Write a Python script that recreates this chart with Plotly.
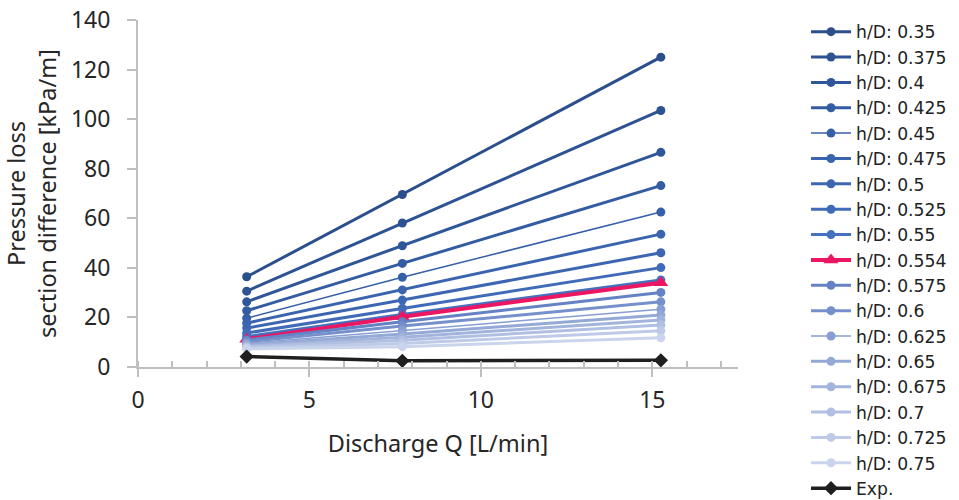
import plotly.graph_objects as go

discharge = [3.17, 7.71, 15.25]

hd_labels = ["h/D: 0.35", "h/D: 0.375", "h/D: 0.4", "h/D: 0.425", "h/D: 0.45",
             "h/D: 0.475", "h/D: 0.5", "h/D: 0.525", "h/D: 0.55", "h/D: 0.554",
             "h/D: 0.575", "h/D: 0.6", "h/D: 0.625", "h/D: 0.65", "h/D: 0.675",
             "h/D: 0.7", "h/D: 0.725", "h/D: 0.75"]

hd_values = [
    [36.4, 69.6, 125.0],
    [30.6, 58.1, 103.5],
    [26.3, 48.9, 86.6],
    [22.7, 41.8, 73.2],
    [19.7, 36.2, 62.5],
    [17.7, 31.1, 53.6],
    [15.7, 27.0, 46.1],
    [13.7, 23.7, 40.1],
    [12.3, 21.2, 35.1],
    [11.2, 20.3, 34.0],
    [10.9, 18.3, 30.1],
    [10.2, 16.5, 26.3],
    [9.5, 14.8, 23.3],
    [9.0, 13.3, 21.0],
    [8.5, 12.0, 19.0],
    [8.1, 10.8, 16.9],
    [7.7, 9.5, 14.6],
    [7.3, 8.2, 11.8],
]

exp_label = "Exp."
exp_values = [4.2, 2.5, 2.7]

colors = ["#2B4E8C", "#2E5393", "#30569A", "#345CA2", "#375FA8", "#3B64AE",
          "#3D66B2", "#416BB8", "#4470BD", "#EC1763", "#6482C4", "#7690CB",
          "#879ED2", "#95A9D7", "#A3B4DC", "#B1C0E2", "#BECAE7", "#CAD4EC"]
widths = [3, 3, 3, 3, 1.5, 3, 3, 3, 3, 4, 3, 3, 1.5, 3, 3, 3, 3, 3]

fig = go.Figure()
for i, (lab, vals) in enumerate(zip(hd_labels, hd_values)):
    pink = lab == "h/D: 0.554"
    fig.add_trace(go.Scatter(
        x=discharge, y=vals, name=lab, mode="lines+markers",
        line=dict(color=colors[i], width=widths[i]),
        marker=dict(symbol="triangle-up" if pink else "circle",
                    size=13 if pink else 9, color=colors[i]),
    ))
fig.add_trace(go.Scatter(
    x=discharge, y=exp_values, name=exp_label, mode="lines+markers",
    line=dict(color="#1F1F1F", width=3.5),
    marker=dict(symbol="diamond", size=11, color="#1F1F1F"),
))

tick_font = dict(family="Noto Sans, Open Sans, sans-serif", size=23, color="#262626")
title_font = dict(family="Noto Sans, Open Sans, sans-serif", size=23.5, color="#262626")

fig.update_layout(
    width=959, height=500,
    paper_bgcolor="white", plot_bgcolor="white",
    margin=dict(l=138, r=221, t=20, b=133),
    font=tick_font,
    showlegend=True,
    legend=dict(
        xref="container", yref="container",
        x=806 / 959, y=1 - 14 / 500, xanchor="left", yanchor="top",
        font=dict(family="DejaVu Sans", size=17.2, color="#222222"),
        itemwidth=40, tracegroupgap=0,
        bgcolor="rgba(0,0,0,0)",
    ),
    xaxis=dict(
        range=[0, 17.5], dtick=5, tick0=0,
        showgrid=False, zeroline=False, automargin=False,
        showline=True, linecolor="#BFBFBF", linewidth=2,
        ticks="outside", ticklen=8, tickcolor="#BFBFBF", tickwidth=2,
        minor=dict(dtick=1, ticks="inside", ticklen=6, tickcolor="#BFBFBF", tickwidth=2, showgrid=False),
        tickfont=tick_font, ticklabelstandoff=3,
        title=dict(text="Discharge Q [L/min]", font=title_font, standoff=22),
    ),
    yaxis=dict(
        range=[0, 140], dtick=20,
        showgrid=False, zeroline=False, automargin=False,
        showline=True, linecolor="#BFBFBF", linewidth=2,
        ticks="outside", ticklen=9, tickcolor="#BFBFBF", tickwidth=2,
        tickfont=tick_font, ticklabelstandoff=12,
        title=dict(text="Pressure loss<br>section difference [kPa/m]", font=title_font, standoff=8),
    ),
)

try:
    fig.update_layout(legend_maxheight=1000)
except Exception:
    pass

fig.write_html("out.html", config={"displayModeBar": False},
               post_script="document.body.style.margin='0';document.body.style.overflow='hidden';")
